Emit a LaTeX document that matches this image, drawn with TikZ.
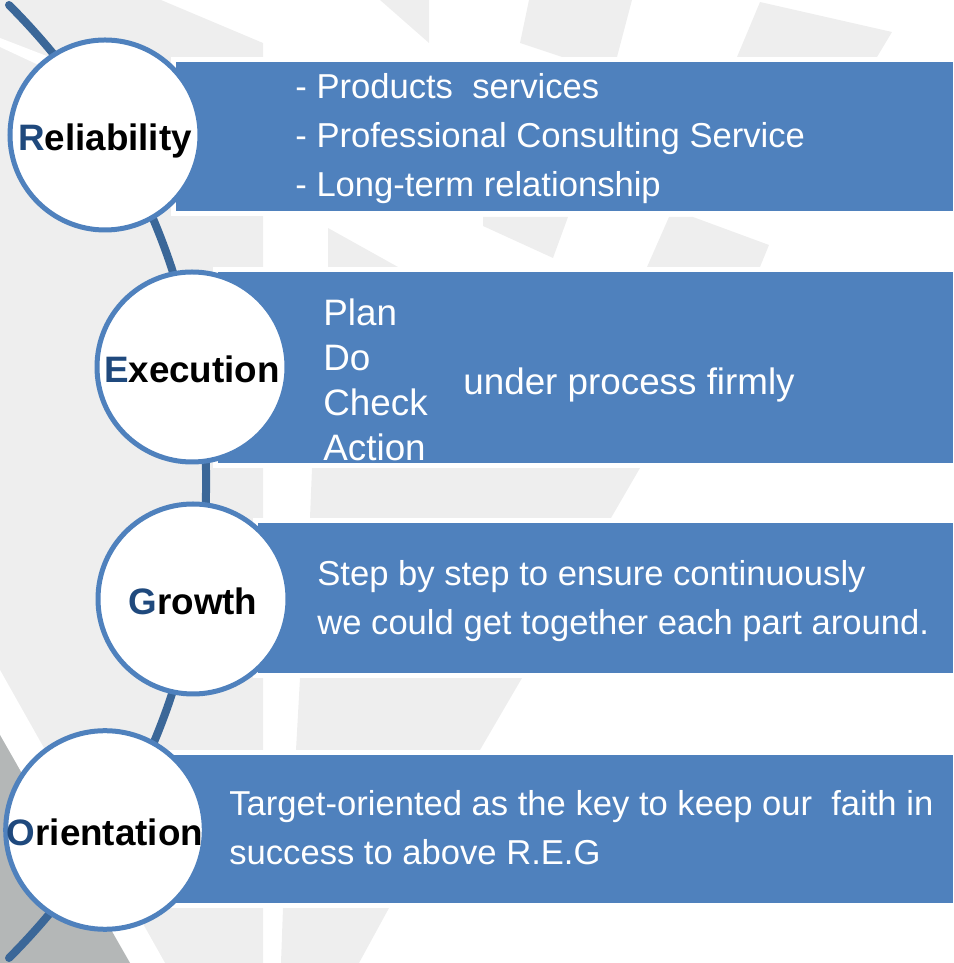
\documentclass[tikz,border=0pt]{standalone}
\usepackage{fontspec}
\setmainfont{Liberation Sans}
\usepackage{xcolor}
\usepackage{tikz}
\definecolor{barblue}{HTML}{4F81BD}
\definecolor{capblue}{HTML}{1F497D}
\definecolor{linkblue}{HTML}{3B6798}
\definecolor{paleg}{HTML}{EEEEEE}
\definecolor{darkg}{HTML}{B4B7B7}

\begin{document}
\begin{tikzpicture}[
    x=0.5pt, y=0.5pt,
    bar/.style={rectangle, fill=barblue, inner sep=0pt, preaction={draw=white, line width=5pt}},
    ring/.style={circle, draw=barblue, line width=2.5pt, fill=white, minimum size=95pt, inner sep=0pt, text height=16pt, text depth=0pt, font=\fontsize{18.4}{22}\selectfont\bfseries},
    note/.style={anchor=west, inner sep=0pt, align=left, text=white, font=\fontsize{17.3}{24.5}\selectfont},
    bignote/.style={note, font=\fontsize{18.4}{22.5}\selectfont},
    link/.style={draw=linkblue, line width=4pt, line cap=round},
    pale/.style={fill=paleg}
]
    \useasboundingbox (0,0) rectangle (953,963);

    % Background stripes
    \fill[pale] (0,963) -- (161,963) -- (263,920) -- (263,0) -- (0,0) -- cycle;
    \fill[white] (0,925) -- (70,898) -- (60,888) -- (0,916) -- cycle;
    \fill[white] (0,293) -- (165,0) -- (130,0) -- (0,228) -- cycle;
    \fill[darkg] (0,228) -- (130,0) -- (0,0) -- cycle;
    \fill[pale] (380,963) -- (429,963) -- (429,920) -- cycle;
    \fill[pale] (529,963) -- (632,963) -- (617,906) -- (562,906) -- (520,920) -- cycle;
    \fill[pale] (760,961) -- (892,931) -- (877,906) -- (737,906) -- cycle;
    \fill[pale] (328,735) -- (398,696) -- (328,696) -- cycle;
    \fill[pale] (483,746) -- (568,746) -- (553,705) -- (483,737) -- cycle;
    \fill[pale] (669,746) -- (693,746) -- (769,718) -- (760,696) -- (647,696) -- cycle;
    \fill[pale] (312,495) -- (640,495) -- (611,445) -- (310,445) -- cycle;
    \fill[pale] (300,285) -- (522,285) -- (480,213) -- (296,213) -- cycle;
    \fill[pale] (283,55) -- (389,55) -- (359,0) -- (281,0) -- cycle;

    % Backbone
    \coordinate (arctop) at (9,958);
    \coordinate (arcbot) at (9,5);
    \draw[link] (arctop) to[out=-45, in=45] (arcbot);

    % Bars
    \node[bar, minimum width=388.5pt, minimum height=74.5pt] (b1) at (564.5,826.5) {};
    \node[bar, minimum width=367.5pt, minimum height=95.5pt] (b2) at (585.5,595.5) {};
    \node[bar, minimum width=347.5pt, minimum height=75pt] (b3) at (605.5,365) {};
    \node[bar, minimum width=391.5pt, minimum height=74pt] (b4) at (561.5,134) {};

    % Texts in the bars
    \node[note] (t1) at (295,824) {- Products\ \ services\\- Professional Consulting Service\\- Long-term relationship};
    \node[bignote] (pdca) at (323,583) {Plan\\Do\\Check\\Action};
    \node[bignote] (firm) at (463,578) {under process firmly};
    \node[note] (t3) at (317,362) {Step by step to ensure continuously\\we could get together each part around.};
    \node[note] (t4) at (229,135) {Target-oriented as the key to keep our\ \ faith in\\success to above R.E.G};

    % Circles
    \node[ring] (rel) at (105,828) {\textcolor{capblue}{R}eliability};
    \node[ring] (exe) at (192,596) {\textcolor{capblue}{E}xecution};
    \node[ring] (gro) at (193,364) {\textcolor{capblue}{G}rowth};
    \node[ring] (ori) at (105,133) {\textcolor{capblue}{O}rientation};
\end{tikzpicture}
\end{document}
